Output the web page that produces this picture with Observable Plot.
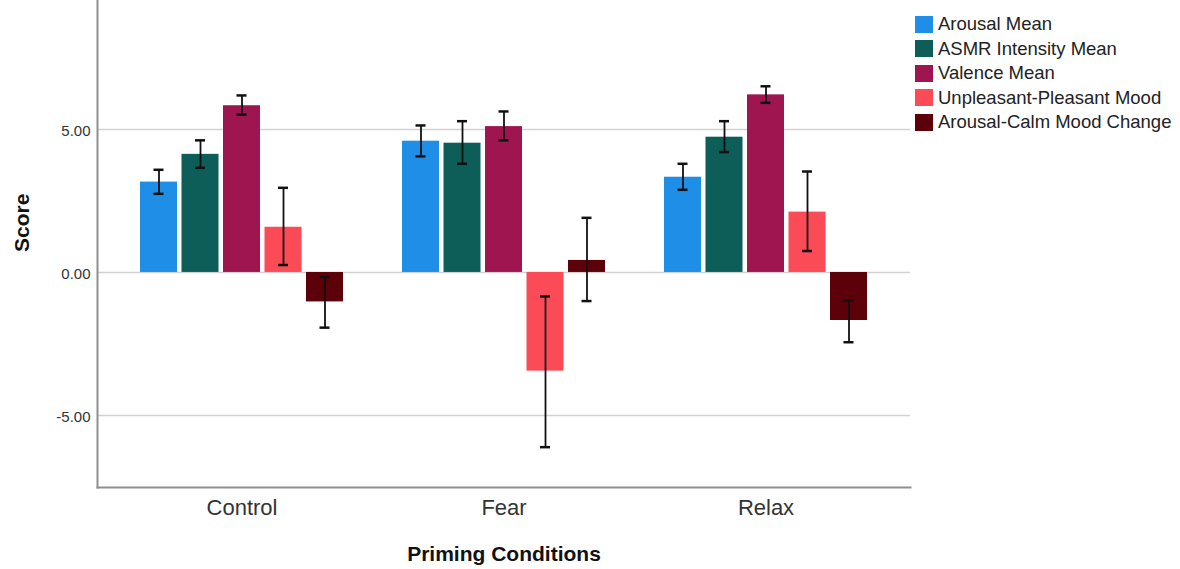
<!DOCTYPE html>
<html><head><meta charset="utf-8">
<script src="https://cdn.jsdelivr.net/npm/d3@7"></script>
<script src="https://cdn.jsdelivr.net/npm/@observablehq/plot@0.6"></script>
<style>
body{margin:0;background:#fff;font-family:"Liberation Sans",Arial,sans-serif;}
#wrap{position:relative;width:1180px;height:569px;overflow:hidden;}
#legend{position:absolute;left:915px;top:12px;font-size:18.5px;color:#222;}
#legend .row{display:flex;align-items:center;height:24.5px;white-space:nowrap;}
#legend .sw{width:18px;height:17px;margin-right:5px;flex:none;}
</style></head><body><div id="wrap"></div>
<script>
// ---- data ----
const conditions = ["Control", "Fear", "Relax"];
const series = ["Arousal Mean", "ASMR Intensity Mean", "Valence Mean", "Unpleasant-Pleasant Mood", "Arousal-Calm Mood Change"];
const colors = ["#1f8ee6", "#0d5e59", "#9e1550", "#fa4b57", "#5c0009"];

const arousalMean = [3.16, 4.59, 3.33];
const arousalLo   = [2.75, 4.06, 2.89];
const arousalHi   = [3.59, 5.14, 3.80];

const asmrMean = [4.13, 4.52, 4.73];
const asmrLo   = [3.66, 3.80, 4.21];
const asmrHi   = [4.62, 5.29, 5.29];

const valenceMean = [5.83, 5.10, 6.21];
const valenceLo   = [5.52, 4.62, 5.93];
const valenceHi   = [6.19, 5.63, 6.51];

const pleasantMean = [1.58, -3.45, 2.11];
const pleasantLo   = [0.26, -6.11, 0.75];
const pleasantHi   = [2.96, -0.84, 3.53];

const calmMean = [-1.03, 0.42, -1.68];
const calmLo   = [-1.93, -1.00, -2.44];
const calmHi   = [-0.16, 1.91, -0.98];

const yTicks = [-5, 0, 5];
const yDomain = [-7.52, 9.51];
const yLabel = "Score";
const xLabel = "Priming Conditions";

// ---- build table ----
const means = [arousalMean, asmrMean, valenceMean, pleasantMean, calmMean];
const los = [arousalLo, asmrLo, valenceLo, pleasantLo, calmLo];
const his = [arousalHi, asmrHi, valenceHi, pleasantHi, calmHi];
const rows = [];
series.forEach((s, si) => conditions.forEach((c, ci) => {
  rows.push({condition: c, series: s, si, value: means[si][ci], lo: los[si][ci], hi: his[si][ci]});
}));

const STEP = 41.5;   // bar step inside a group
const CAP = 13.5;    // cap inset inside a bar
const n = series.length;

const marks = [
  Plot.ruleY(yTicks, {stroke: "#d2d2d2", strokeWidth: 1.5})
];
series.forEach((s, i) => {
  const data = rows.filter(d => d.si === i);
  marks.push(Plot.barY(data, {x: "condition", y: "value", fill: "series",
    insetLeft: i * STEP, insetRight: (n - 1 - i) * STEP}));
});
series.forEach((s, i) => {
  const data = rows.filter(d => d.si === i);
  const off = (i - (n - 1) / 2) * STEP;
  marks.push(Plot.ruleX(data, {x: "condition", y1: "lo", y2: "hi", dx: off, stroke: "#111", strokeWidth: 1.8}));
  marks.push(Plot.tickY(data, {x: "condition", y: "lo", stroke: "#111", strokeWidth: 2.5,
    insetLeft: i * STEP + CAP, insetRight: (n - 1 - i) * STEP + CAP}));
  marks.push(Plot.tickY(data, {x: "condition", y: "hi", stroke: "#111", strokeWidth: 2.5,
    insetLeft: i * STEP + CAP, insetRight: (n - 1 - i) * STEP + CAP}));
});
marks.push(
  Plot.frame({anchor: "left", stroke: "#8f8f8f", strokeWidth: 2}),
  Plot.frame({anchor: "bottom", stroke: "#8f8f8f", strokeWidth: 2}),
  Plot.axisY({ticks: yTicks, tickFormat: d => d.toFixed(2), tickSize: 0, tickPadding: 7, fontSize: 15, fill: "#333", label: null, dy: 2}),
  Plot.axisX({tickSize: 0, tickPadding: 12, fontSize: 22, fill: "#333", label: null}),
  Plot.text([yLabel], {text: d => d, frameAnchor: "left", dx: -75, dy: 8, rotate: -90, fontSize: 21, fontWeight: "bold", fill: "#111"}),
  Plot.text([xLabel], {text: d => d, frameAnchor: "bottom", dy: 67, fontSize: 21, fontWeight: "bold", fill: "#111", lineAnchor: "middle"})
);

const chart = Plot.plot({
  width: 1180,
  height: 569,
  marginTop: 0,
  marginBottom: 82,
  marginLeft: 97,
  marginRight: 270,
  style: {fontFamily: "Liberation Sans, Arial, sans-serif", background: "#fff", overflow: "visible"},
  x: {domain: conditions, inset: 13, paddingInner: 0.2267, paddingOuter: 0.1133, axis: null},
  y: {domain: yDomain, axis: null},
  color: {domain: series, range: colors},
  marks
});
const wrap = document.getElementById("wrap");
wrap.appendChild(chart);

// legend
const leg = document.createElement("div");
leg.id = "legend";
series.forEach((s, i) => {
  const r = document.createElement("div");
  r.className = "row";
  const sw = document.createElement("span");
  sw.className = "sw";
  sw.style.background = colors[i];
  const t = document.createElement("span");
  t.textContent = s;
  r.appendChild(sw); r.appendChild(t);
  leg.appendChild(r);
});
wrap.appendChild(leg);
</script>
</body></html>
